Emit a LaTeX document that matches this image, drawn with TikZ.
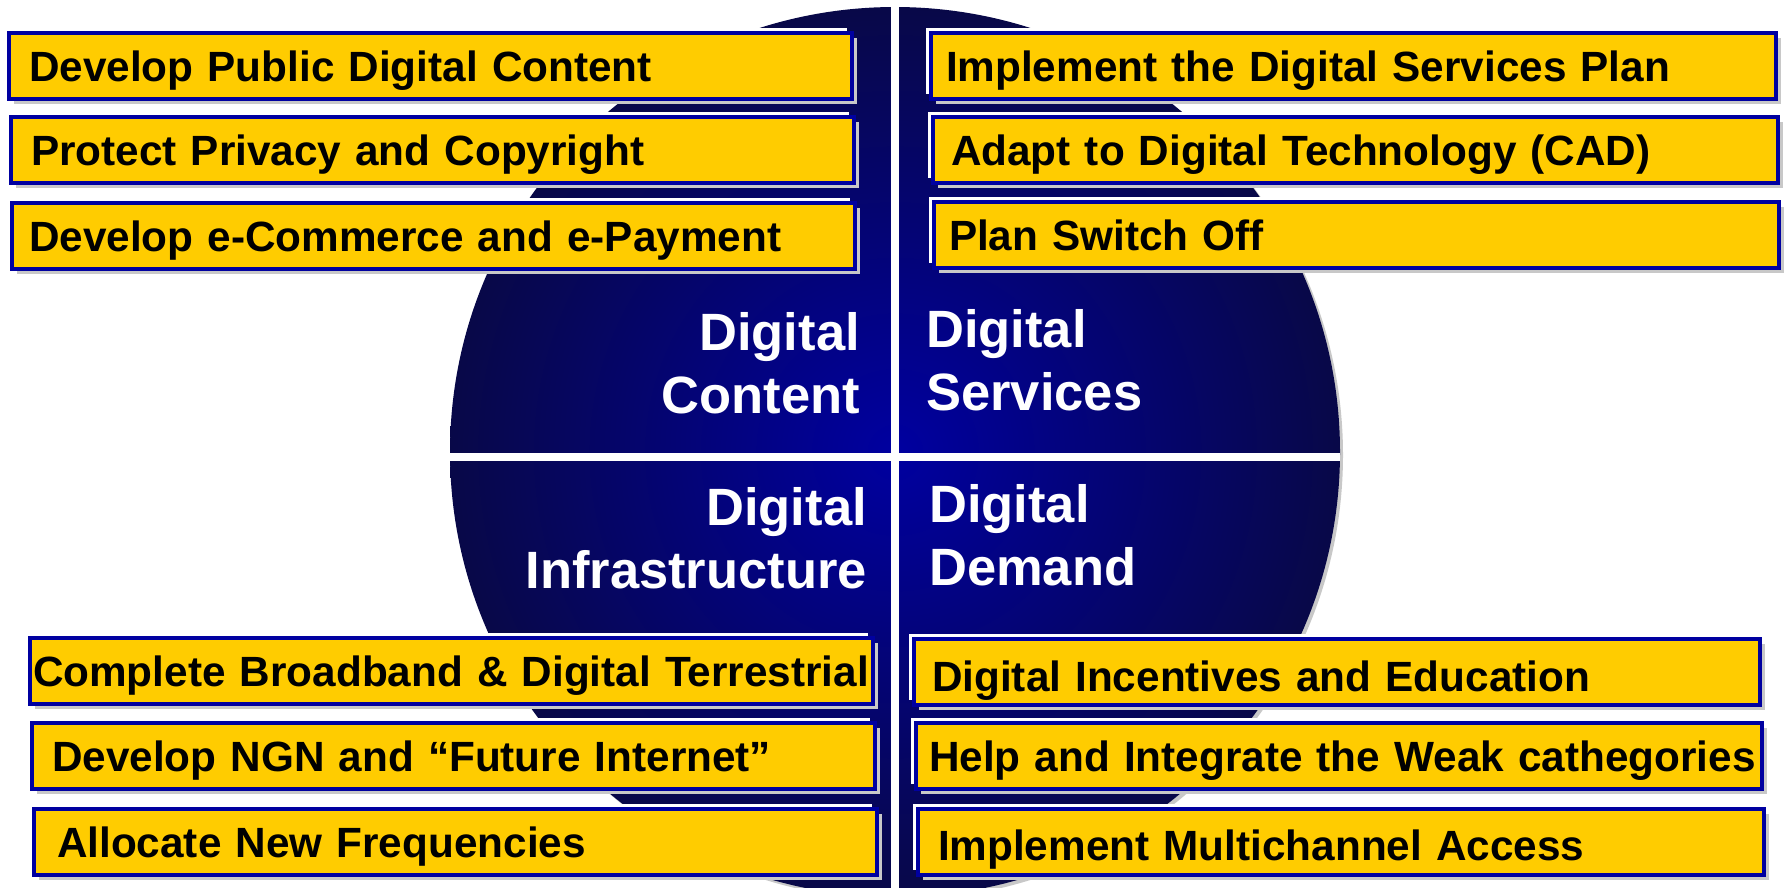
\documentclass[tikz,border=0pt]{standalone}
\usepackage{fontspec}
\setmainfont{Liberation Sans}
\usetikzlibrary{shadows}

\definecolor{gold}{HTML}{FFCC00}
\definecolor{frameblue}{HTML}{0000A0}
\definecolor{shadowgray}{HTML}{C8C8C8}
\definecolor{discin}{HTML}{0000A0}
\definecolor{discout}{HTML}{080848}

\tikzset{
  goal/.style={draw=frameblue, line width=4pt, fill=gold, anchor=north west,
    minimum height=66pt, inner ysep=0pt, align=left,
    text height=30pt, text depth=0pt,
    font=\fontsize{42.3}{50}\selectfont\bfseries,
    general shadow={fill=shadowgray, shadow xshift=5pt, shadow yshift=-5pt},
    general shadow={fill=white, shadow xshift=-5pt, shadow yshift=5pt}},
  pillar/.style={text=white, inner sep=0pt, font=\fontsize{52.5}{63}\selectfont\bfseries},
  divider/.style={draw=white, line width=8pt}
}

\begin{document}
\begin{tikzpicture}[x=1pt,y=-1pt]
\useasboundingbox (0,0) rectangle (1787,887);

% the disc and its cross
\node[circle, minimum size=890pt, inner sep=0pt, inner color=discin, outer color=discout,
  general shadow={fill=shadowgray, shadow xshift=3pt, shadow yshift=-3pt}] (hub) at (895,452) {};
\draw[divider] (hub.north) -- (hub.south);
\draw[divider] ([yshift=-5pt]hub.west) -- ([yshift=-5pt]hub.east);

\node[pillar, anchor=north east, align=right] (dcontent) at (860,312) {Digital\\Content};
\node[pillar, anchor=north west, align=left] (dservices) at (926,309) {Digital\\Services};
\node[pillar, anchor=north east, align=right] (dinfra) at (867,487) {Digital\\Infrastructure};
\node[pillar, anchor=north west, align=left] (ddemand) at (929,484) {Digital\\Demand};

% content
\node[goal, inner xsep=20pt, text width=803pt] (c1) at (7,31) {Develop Public Digital Content};
\node[goal, inner xsep=20pt, text width=803pt] (c2) at (9,115) {Protect Privacy and Copyright};
\node[goal, inner xsep=17pt, text width=809pt] (c3) at (10,201) {Develop e-Commerce and e-Payment};

% services
\node[goal, inner xsep=15pt, text width=815pt] (s1) at (929,31) {Implement the Digital Services Plan};
\node[goal, inner xsep=18pt, text width=809pt] (s2) at (931,115) {Adapt to Digital Technology (CAD)};
\node[goal, inner xsep=15pt, text width=815pt] (s3) at (932,200) {Plan Switch Off};

% infrastructure
\node[goal, inner xsep=3pt, text width=837pt] (i1) at (28,636) {\mbox{Complete Broadband \& Digital Terrestrial}};
\node[goal, inner xsep=20pt, text width=803pt] (i2) at (30,721) {Develop NGN and “Future Internet”};
\node[goal, inner xsep=23pt, text width=797pt] (i3) at (32,807) {Allocate New Frequencies};

% demand (text sits a little low in these boxes)
\node[goal, inner xsep=18pt, text width=810pt, text height=38pt] (d1) at (912,637) {Digital Incentives and Education};
\node[goal, inner xsep=13pt, text width=820pt] (d2) at (914,721) {\mbox{Help and Integrate the Weak cathegories}};
\node[goal, inner xsep=20pt, text width=806pt, text height=36pt] (d3) at (916,807) {Implement Multichannel Access};

\end{tikzpicture}
\end{document}
